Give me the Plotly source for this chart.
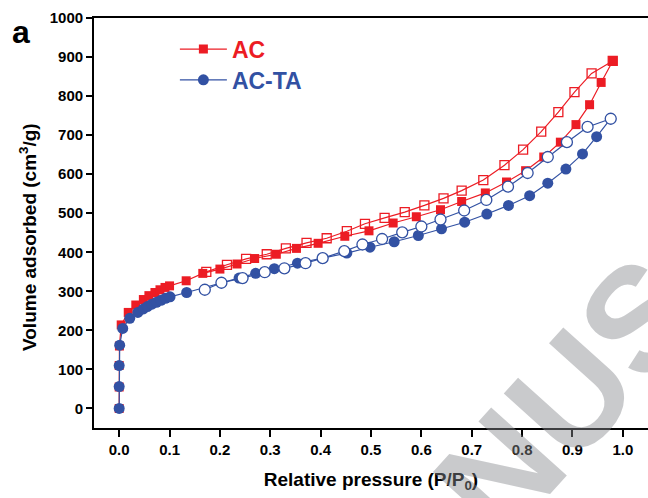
import plotly.graph_objects as go

# ---- data ----
ac_ads_x = [0.0, 0.0, 0.0, 0.0005, 0.004, 0.018, 0.033, 0.048, 0.059, 0.071, 0.081, 0.091, 0.1,
            0.133, 0.166, 0.2, 0.234, 0.269, 0.312, 0.352, 0.395, 0.448, 0.496, 0.544, 0.59,
            0.638, 0.68, 0.727, 0.769, 0.807, 0.843, 0.876, 0.907, 0.934, 0.957, 0.98]
ac_ads_y = [0, 55, 110, 160, 214, 246, 265, 279, 289, 297, 304, 310, 314,
            327, 346, 357, 370, 384, 395, 410, 423, 441, 455, 475, 491,
            509, 530, 552, 580, 609, 644, 682, 727, 778, 835, 890]

ac_des_x = [0.98, 0.938, 0.904, 0.872, 0.838, 0.802, 0.765, 0.723, 0.68, 0.644, 0.606,
            0.567, 0.527, 0.488, 0.452, 0.412, 0.372, 0.331, 0.293, 0.252, 0.214, 0.173]
ac_des_y = [890, 858, 810, 759, 709, 663, 623, 585, 558, 538, 520,
            503, 488, 473, 454, 436, 424, 410, 395, 383, 368, 350]

acta_ads_x = [0.0, 0.0, 0.0, 0.001, 0.007, 0.021, 0.037, 0.048, 0.056, 0.065, 0.074, 0.083,
              0.092, 0.101, 0.134, 0.203, 0.238, 0.271, 0.308, 0.354, 0.404, 0.452, 0.498,
              0.546, 0.594, 0.64, 0.686, 0.73, 0.773, 0.815, 0.851, 0.887, 0.92, 0.948, 0.976]
acta_ads_y = [0, 56, 110, 162, 205, 231, 246, 255, 261, 267, 272, 277,
              282, 286, 297, 322, 334, 346, 358, 372, 385, 398, 413,
              427, 443, 460, 477, 498, 520, 545, 577, 613, 652, 696, 742]

acta_des_x = [0.976, 0.93, 0.889, 0.851, 0.811, 0.772, 0.729, 0.685, 0.638, 0.6, 0.562,
              0.522, 0.483, 0.447, 0.404, 0.37, 0.328, 0.289, 0.245, 0.203, 0.17]
acta_des_y = [742, 721, 682, 644, 603, 568, 534, 507, 484, 466, 451,
              434, 420, 403, 385, 372, 359, 349, 334, 322, 304]

series_names = ["AC", "AC-TA"]
x_ticks = [0.0, 0.1, 0.2, 0.3, 0.4, 0.5, 0.6, 0.7, 0.8, 0.9, 1.0]
y_ticks = [0, 100, 200, 300, 400, 500, 600, 700, 800, 900, 1000]

RED = "#ec1c24"
BLUE = "#3251a3"
FONT = "Liberation Sans, Arial, Helvetica, sans-serif"

fig = go.Figure()

fig.add_trace(go.Scatter(
    x=ac_ads_x, y=ac_ads_y, mode="lines+markers",
    name=f"<span style='color:{RED}'><b>{series_names[0]}</b></span>",
    legend="legend",
    line=dict(color=RED, width=1.2),
    marker=dict(symbol="square", size=9, color=RED, line=dict(width=0))))
fig.add_trace(go.Scatter(
    x=ac_des_x, y=ac_des_y, mode="lines+markers", name="AC des", showlegend=False,
    line=dict(color=RED, width=1.2),
    marker=dict(symbol="square-open", size=9, color=RED, line=dict(width=1.3))))
fig.add_trace(go.Scatter(
    x=acta_ads_x, y=acta_ads_y, mode="lines+markers",
    name=f"<span style='color:{BLUE}'><b>{series_names[1]}</b></span>",
    legend="legend2",
    line=dict(color=BLUE, width=1.2),
    marker=dict(symbol="circle", size=11, color=BLUE, line=dict(width=0))))
fig.add_trace(go.Scatter(
    x=acta_des_x, y=acta_des_y, mode="lines+markers", name="AC-TA des", showlegend=False,
    line=dict(color=BLUE, width=1.2),
    marker=dict(symbol="circle", size=11, color="white", line=dict(width=1.3, color=BLUE))))

leg_common = dict(xanchor="left", yanchor="middle", bgcolor="rgba(0,0,0,0)", borderwidth=0,
                  font=dict(size=23, family=FONT), itemwidth=47)

fig.update_layout(
    width=648, height=498,
    margin=dict(l=94, r=0, t=18, b=70),
    paper_bgcolor="white", plot_bgcolor="white",
    font=dict(family=FONT, color="black"),
    showlegend=True,
    legend=dict(x=0.146, y=0.924, **leg_common),
    legend2=dict(x=0.146, y=0.849, **leg_common),
    xaxis=dict(range=[-0.05, 1.05], tickvals=x_ticks,
               ticktext=[f"<b>{v:.1f}</b>" for v in x_ticks],
               ticks="outside", ticklen=7, tickwidth=1.5, tickcolor="black",
               showline=True, linecolor="black", linewidth=1.8, mirror=True,
               showgrid=False, zeroline=False,
               tickfont=dict(size=15, family=FONT),
               title=dict(text="<b>Relative pressure (P/P<sub>0</sub>)</b>",
                          font=dict(size=19, family=FONT), standoff=16)),
    yaxis=dict(range=[-50, 1000], tickvals=y_ticks,
               ticktext=[f"<b>{v}</b>" for v in y_ticks],
               ticks="outside", ticklen=6, tickwidth=1.5, tickcolor="black",
               showline=True, linecolor="black", linewidth=1.8, mirror=False,
               showgrid=False, zeroline=False,
               tickfont=dict(size=15, family=FONT)),
)

# y-axis title (placed as annotation so it can sit slightly below the plot centre, as in the reference)
fig.add_annotation(text="<b>Volume adsorbed (cm<sup>3</sup>/g)</b>", xref="paper", yref="paper",
                   x=-0.119, y=0.466, xanchor="center", yanchor="middle",
                   textangle=-90, showarrow=False,
                   font=dict(size=19, family=FONT, color="black"))

# panel label
fig.add_annotation(text="<b>a</b>", xref="paper", yref="paper",
                   x=-0.152, y=0.966, xanchor="left", yanchor="middle",
                   showarrow=False, font=dict(size=32, family=FONT, color="black"))

# watermark (semi-transparent so the axis text beneath stays visible)
fig.add_annotation(text="<b>NUS</b>", xref="paper", yref="paper",
                   x=0.855, y=0.075, xanchor="center", yanchor="middle",
                   textangle=-48, showarrow=False,
                   font=dict(size=148, family=FONT, color="rgba(135,137,141,0.45)"))

fig.write_html("out.html")
